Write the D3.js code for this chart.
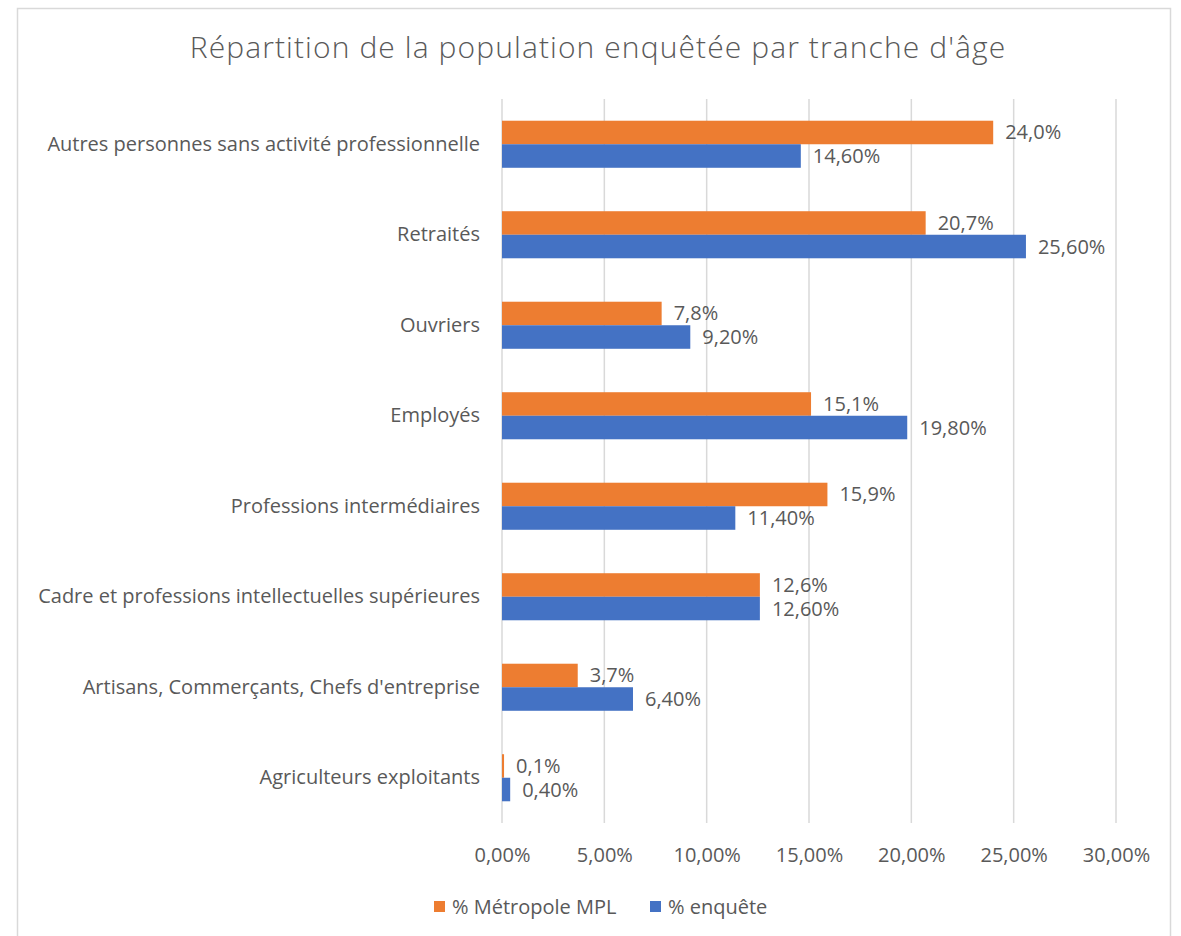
<!DOCTYPE html>
<html>
<head>
<meta charset="utf-8">
<script src="https://cdn.jsdelivr.net/npm/d3@7"></script>
<style>
  body { margin: 0; background: #fff; }
  text { font-family: "Open Sans", "Noto Sans", sans-serif; fill: #595959; }
</style>
</head>
<body>
<div id="chart"></div>
<script>
// chart data, bottom category last
const categories = [
  "Autres personnes sans activité professionnelle",
  "Retraités",
  "Ouvriers",
  "Employés",
  "Professions intermédiaires",
  "Cadre et professions intellectuelles supérieures",
  "Artisans, Commerçants, Chefs d'entreprise",
  "Agriculteurs exploitants"
]
const metropole = [24.0, 20.7, 7.8, 15.1, 15.9, 12.6, 3.7, 0.1]
const enquete = [14.6, 25.6, 9.2, 19.8, 11.4, 12.6, 6.4, 0.4]
const xTicks = [0, 5, 10, 15, 20, 25, 30]
const seriesNames = ["% Métropole MPL", "% enquête"]
const seriesColors = ["#ED7D31", "#4472C4"]

const params = {
  fullWidth: 1181,
  fullHeight: 936,
  left: 502,
  right: 1116,
  top: 99,
  bottom: 823
}

const svg = d3.select("#chart").append("svg")
  .attr("width", params.fullWidth)
  .attr("height", params.fullHeight)

// chart frame
svg.append("rect")
  .attr("x", 17.5).attr("y", 8.5)
  .attr("width", 1153).attr("height", 940)
  .attr("fill", "#fff")
  .attr("stroke", "#d9d9d9")
  .attr("stroke-width", 1.5)

svg.append("text")
  .attr("x", 598)
  .attr("y", 58)
  .attr("text-anchor", "middle")
  .attr("font-size", "30px")
  .attr("font-weight", 300)
  .attr("letter-spacing", "1.1px")
  .text("Répartition de la population enquêtée par tranche d'âge")

const x = d3.scaleLinear()
  .domain([0, 30])
  .range([params.left, params.right])

const y = d3.scaleBand()
  .domain(categories)
  .range([params.top, params.bottom])
  .paddingInner(0.48)
  .paddingOuter(0.24)

const ySub = d3.scaleBand()
  .domain(seriesNames)
  .range([0, y.bandwidth()])

// gridlines
svg.append("g")
  .selectAll("line")
  .data(xTicks)
  .enter().append("line")
  .attr("x1", d => x(d)).attr("x2", d => x(d))
  .attr("y1", params.top).attr("y2", params.bottom)
  .attr("stroke", "#d9d9d9")
  .attr("stroke-width", 1.5)

// x axis labels
const xAxis = d3.axisBottom(x)
  .tickValues(xTicks)
  .tickSize(0)
  .tickPadding(25)
  .tickFormat(d => d3.format(".2f")(d).replace(".", ",") + "%")
const xg = svg.append("g")
  .attr("transform", `translate(0,${params.bottom})`)
  .call(xAxis)
xg.select(".domain").remove()
xg.selectAll("text")
  .attr("font-size", "20px")
  .attr("fill", "#595959")
  .style("font-family", "'Open Sans', sans-serif")

// category labels
const yAxis = d3.axisLeft(y).tickSize(0).tickPadding(22)
const yg = svg.append("g")
  .attr("transform", `translate(${params.left},0)`)
  .call(yAxis)
yg.select(".domain").remove()
yg.selectAll("text")
  .attr("font-size", "20px")
  .attr("fill", "#595959")
  .style("font-family", "'Open Sans', sans-serif")

const series = [
  { name: seriesNames[0], values: metropole, color: seriesColors[0], fmt: ".1f" },
  { name: seriesNames[1], values: enquete, color: seriesColors[1], fmt: ".2f" }
]

series.forEach(s => {
  const g = svg.append("g")
  const rows = categories.map((c, i) => ({ c, v: s.values[i] }))
  g.selectAll("rect")
    .data(rows)
    .enter().append("rect")
    .attr("x", x(0))
    .attr("y", d => y(d.c) + ySub(s.name))
    .attr("width", d => x(d.v) - x(0))
    .attr("height", ySub.bandwidth())
    .attr("fill", s.color)
  g.selectAll("text")
    .data(rows)
    .enter().append("text")
    .attr("x", d => x(d.v) + 12)
    .attr("y", d => y(d.c) + ySub(s.name) + ySub.bandwidth() / 2)
    .attr("dy", "0.35em")
    .attr("font-size", "20px")
    .text(d => d3.format(s.fmt)(d.v).replace(".", ",") + "%")
})

// legend
const legendX = [434, 650]
const legend = svg.append("g")
series.forEach((s, i) => {
  legend.append("rect")
    .attr("x", legendX[i]).attr("y", 901)
    .attr("width", 11).attr("height", 11)
    .attr("fill", s.color)
  legend.append("text")
    .attr("x", legendX[i] + 18).attr("y", 907)
    .attr("dy", "0.35em")
    .attr("font-size", "20px")
    .text(s.name)
})
</script>
</body>
</html>
